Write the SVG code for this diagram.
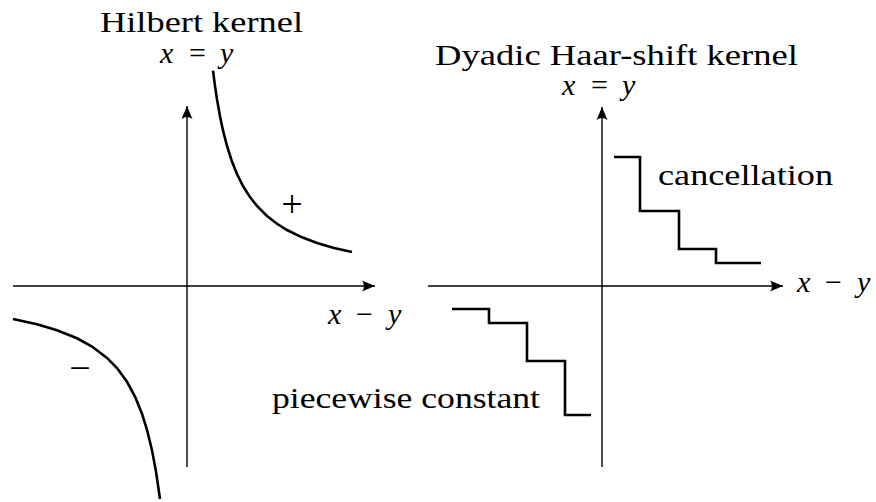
<svg xmlns="http://www.w3.org/2000/svg" width="876" height="502" viewBox="0 0 876 502">
<style>
.ax{stroke:#000;stroke-width:1.4;fill:none}
.cv{stroke:#000;stroke-width:2.6;fill:none;stroke-linejoin:miter}
.t{font-family:'Liberation Serif','Times New Roman',Times,serif;font-size:30px;fill:#000}
.m{font-family:'Liberation Serif','Times New Roman',Times,serif;font-size:30px;font-style:italic;fill:#000}
.o{font-family:'Liberation Serif','Times New Roman',Times,serif;font-size:30px;fill:#000}
.s{font-family:'Liberation Serif','Times New Roman',Times,serif;font-size:38px;fill:#000}
</style>
<defs>
<marker id="arr" markerUnits="userSpaceOnUse" markerWidth="16" markerHeight="12" refX="14" refY="6" orient="auto">
<path d="M14,6 L1,0.5 Q5,6 1,11.5 Z" fill="#000"/>
</marker>
</defs>
<rect width="876" height="502" fill="#fff"/>
<g id="connectors">
<line class="ax" x1="13" y1="286" x2="375" y2="286" marker-end="url(#arr)"/>
<line class="ax" x1="187" y1="467" x2="187" y2="106" marker-end="url(#arr)"/>
<line class="ax" x1="428" y1="286" x2="783" y2="286" marker-end="url(#arr)"/>
<line class="ax" x1="602" y1="467" x2="602" y2="107" marker-end="url(#arr)"/>
</g>
<g id="hilbert-upper">
<polyline class="cv" points="213,70.6 215,86 217,99.3 220,116.3 223,130.4 227,146 232,161.6 237,174 243,186 250,197.1 257,206 267,216 277,223.8 287,230 302,237.3 317,242.9 334,247.9 352,252.1"/>
<text class="s" x="292" y="217" text-anchor="middle">+</text>
</g>
<g id="hilbert-lower">
<polyline class="cv" points="13,319 37,324.3 57,330.2 77,338.3 92,346.5 107,357.9 117,368.1 127,381.8 135,396.6 142,413.8 147,429.75 152,450.3 156,471.5 160,499"/>
<text class="s" x="80" y="381" text-anchor="middle">−</text>
</g>
<g id="hilbert-labels">
<text class="t" x="100" y="32" textLength="203" lengthAdjust="spacingAndGlyphs">Hilbert kernel</text>
<text class="m" x="160" y="63">x</text>
<text class="o" x="189" y="63">=</text>
<text class="m" x="220" y="63">y</text>
<text class="m" x="328" y="324">x</text>
<text class="o" x="356" y="324">−</text>
<text class="m" x="388" y="324">y</text>
</g>
<g id="haar-labels">
<text class="t" x="435" y="65" textLength="363" lengthAdjust="spacingAndGlyphs">Dyadic Haar-shift kernel</text>
<text class="m" x="562" y="95">x</text>
<text class="o" x="591" y="95">=</text>
<text class="m" x="622" y="95">y</text>
<text class="m" x="797" y="292">x</text>
<text class="o" x="825" y="292">−</text>
<text class="m" x="857" y="292">y</text>
</g>
<g id="haar-upper">
<polyline class="cv" points="614,157 640,157 640,211 679,211 679,249 716,249 716,263 761,263"/>
<text class="t" x="658" y="185" textLength="175" lengthAdjust="spacingAndGlyphs">cancellation</text>
</g>
<g id="haar-lower">
<polyline class="cv" points="452,309 489,309 489,323 527,323 527,361 565,361 565,415 591,415"/>
<text class="t" x="272" y="408" textLength="268" lengthAdjust="spacingAndGlyphs">piecewise constant</text>
</g>
</svg>
